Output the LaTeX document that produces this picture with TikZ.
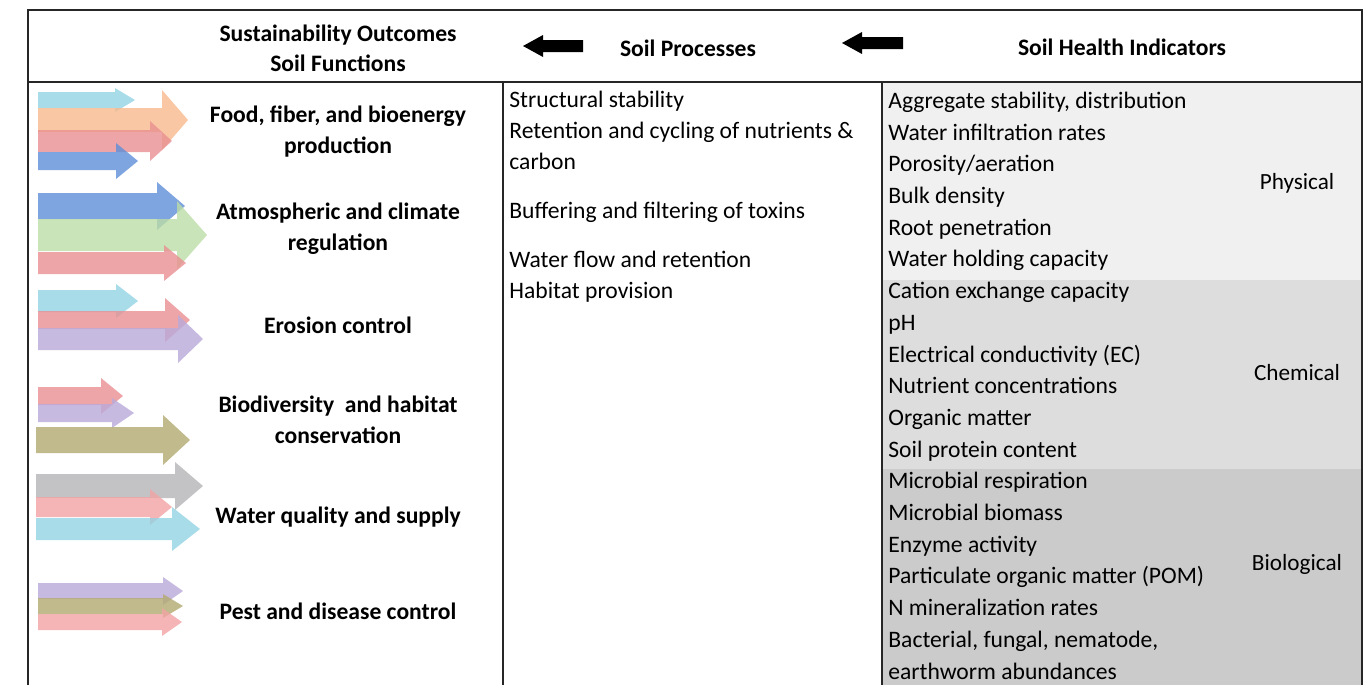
\documentclass[tikz,border=0pt]{standalone}
\usepackage{fontspec}
\setmainfont{Carlito}
\begin{document}
\begin{tikzpicture}[x=0.5pt,y=-0.5pt,
  txt/.style={anchor=west,inner sep=0pt,text height=1.6ex,text depth=0.45ex,font=\fontsize{11.8}{14}\selectfont},
  lbl/.style={inner sep=0pt,align=center,font=\fontsize{11.8}{15.5}\selectfont\bfseries},
  hdr/.style={inner sep=0pt,align=center,font=\fontsize{11.8}{15}\selectfont\bfseries},
  cat/.style={inner sep=0pt,font=\fontsize{11.6}{14}\selectfont},
  frame/.style={draw=black!85,line width=1pt}]
\useasboundingbox (0,0) rectangle (1371,685);
% block arrow: opacity, color, x0, xtip, yc, body half, head half, head length
\newcommand\blk[8][0.8]{%
  \fill[#2,fill opacity=#1] (#3,#5-#6) -- (#4-#8,#5-#6) -- (#4-#8,#5-#7) -- (#4,#5)
   -- (#4-#8,#5+#7) -- (#4-#8,#5+#6) -- (#3,#5+#6) -- cycle;}
\definecolor{acyan}{HTML}{93D3E4}
\definecolor{aorange}{HTML}{F8B98C}
\definecolor{ared}{HTML}{E98F92}
\definecolor{apink}{HTML}{F2A3A5}
\definecolor{ablue}{HTML}{5E8FD8}
\definecolor{agreen}{HTML}{BCDDA6}
\definecolor{alav}{HTML}{B9A9D9}
\definecolor{aolive}{HTML}{B2A96F}
\definecolor{agray}{HTML}{B4B4B8}
\definecolor{phys}{HTML}{F0F0F0}
\definecolor{chem}{HTML}{DDDDDD}
\definecolor{bio}{HTML}{CBCBCB}
% right column shading
\fill[phys] (882,82) rectangle (1362,280);
\fill[chem] (882,280) rectangle (1362,469);
\fill[bio] (882,469) rectangle (1362,685);
% frame
\draw[frame] (28,685) -- (28,10) -- (1362,10) -- (1362,685);
\draw[frame] (28,82) -- (1362,82);
\draw[frame] (503,82) -- (503,685);
\draw[frame] (882,82) -- (882,685);
% header
\node[hdr] (h1) at (338,48) {Sustainability Outcomes\\Soil Functions};
\node[hdr] (h2) at (688,48) {Soil Processes};
\node[hdr] (h3) at (1122,47) {Soil Health Indicators};
\fill[black] (583,40) -- (543,40) -- (543,35) -- (523,46) -- (543,57) -- (543,52) -- (583,52) -- cycle;
\fill[black] (903,37) -- (862,37) -- (862,32) -- (842,43) -- (862,54) -- (862,49) -- (903,49) -- cycle;
% left arrows: Food
\blk{acyan}{38}{135}{100}{8}{12}{20}
\blk{aorange}{38}{188}{120}{12}{30}{26}
\blk{ared}{38}{172}{141}{11}{20}{22}
\blk{ablue}{38}{138}{161}{9}{18}{22}
% Atmospheric
\blk{ablue}{38}{185}{206}{13}{24}{28}
\blk{agreen}{38}{207}{235}{16}{34}{30}
\blk{ared}{38}{186}{263}{11}{18}{22}
% Erosion
\blk{acyan}{38}{138}{301}{11}{17}{22}
\blk{ared}{38}{190}{320}{9}{22}{25}
\blk{alav}{38}{203}{339}{11}{24}{25}
% Biodiversity
\blk{ared}{38}{123}{396}{9}{18}{22}
\blk{alav}{38}{134}{413}{9}{15}{22}
\blk{aolive}{36}{190}{440}{13}{25}{27}
% Water quality
\blk{agray}{36}{203}{486}{12}{24}{28}
\blk{apink}{36}{172}{507}{10}{18}{22}
\blk{acyan}{36}{200}{529}{11}{22}{28}
% Pest
\blk{alav}{38}{183}{591}{8}{14}{20}
\blk{aolive}{38}{183}{606}{8}{12}{20}
\blk{apink}{38}{182}{622}{8}{14}{20}
% left labels
\node[lbl] (f1) at (338,132) {Food, fiber, and bioenergy\\production};
\node[lbl] (f2) at (338,229) {Atmospheric and climate\\regulation};
\node[lbl] (f3) at (338,325) {Erosion control};
\node[lbl] (f4) at (338,420) {Biodiversity\ \ and habitat\\conservation};
\node[lbl] (f5) at (338,517) {Water quality and supply};
\node[lbl] (f6) at (338,611) {Pest and disease control};
% middle column
\node[txt] (p1) at (509,102) {Structural stability};
\node[txt] (p2) at (509,133) {Retention and cycling of nutrients \&};
\node[txt] (p3) at (509,164) {carbon};
\node[txt] (p4) at (509,213) {Buffering and filtering of toxins};
\node[txt] (p5) at (509,262) {Water flow and retention};
\node[txt] (p6) at (509,293) {Habitat provision};
% right column
\foreach \t [count=\i from 0] in {Aggregate stability\char44{} distribution,Water infiltration rates,Porosity/aeration,Bulk density,Root penetration,Water holding capacity,Cation exchange capacity,pH,Electrical conductivity (EC),Nutrient concentrations,Organic matter,Soil protein content,Microbial respiration,Microbial biomass,Enzyme activity,Particulate organic matter (POM),N mineralization rates,Bacterial\char44{} fungal\char44{} nematode\char44,earthworm abundances}
  \node[txt] (i\i) at (888,{103+31.7*\i}) {\t};
\node[cat] (c1) at (1297,183) {Physical};
\node[cat] (c2) at (1297,373) {Chemical};
\node[cat] (c3) at (1297,564) {Biological};
\end{tikzpicture}
\end{document}
